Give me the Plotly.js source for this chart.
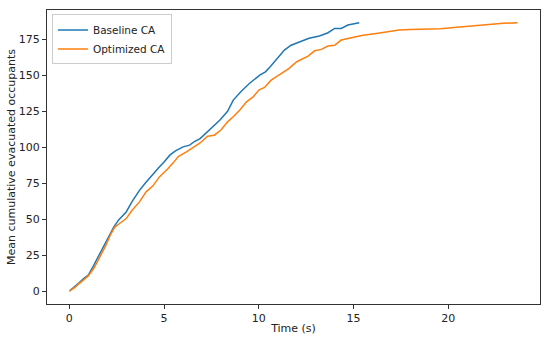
<!DOCTYPE html>
<html>
<head>
<meta charset="utf-8">
<script src="https://cdn.plot.ly/plotly-3.0.1.min.js"></script>
<style>html,body{margin:0;padding:0;background:#fff;}#chart{width:550px;height:341px;}</style>
</head>
<body>
<div id="chart"></div>
<script>
const baselineTime = [0, 0.3, 0.5, 0.75, 1.0, 1.25, 1.5, 1.8, 2.1, 2.35, 2.6, 2.8, 3.0, 3.3, 3.7, 4.0, 4.35, 4.7, 5.0, 5.3, 5.6, 6.0, 6.35, 6.6, 6.9, 7.3, 7.6, 7.95, 8.35, 8.65, 9.05, 9.5, 10.05, 10.35, 10.6, 10.9, 11.35, 11.7, 12.15, 12.65, 13.2, 13.65, 14.0, 14.35, 14.7, 15.3];
const baselineValues = [0, 3, 5.5, 8.6, 11, 17, 23.5, 31, 39, 44.6, 49.5, 52.5, 55, 62, 70, 75, 80.6, 85.5, 89.8, 94.5, 97.5, 100.3, 101.5, 104, 106, 110.7, 114.5, 118.9, 125, 132.8, 138.6, 144.4, 150.2, 152.5, 156, 160.7, 167.6, 171, 173.4, 175.8, 177.4, 179.7, 182.7, 182.7, 185, 186.6];
const optimizedTime = [0, 0.3, 0.5, 0.75, 1.0, 1.3, 1.6, 1.9, 2.2, 2.4, 2.7, 3.0, 3.3, 3.7, 4.05, 4.4, 4.75, 5.2, 5.5, 5.75, 6.2, 6.6, 6.9, 7.3, 7.65, 8.0, 8.35, 8.65, 9.0, 9.35, 9.7, 10.0, 10.3, 10.65, 10.9, 11.2, 11.6, 12.0, 12.6, 12.95, 13.3, 13.65, 14.0, 14.35, 14.8, 15.5, 16.2, 16.9, 17.4, 18.0, 19.6, 20.3, 21.4, 22.2, 22.9, 23.65];
const optimizedValues = [0, 2.5, 5, 8, 10.5, 16, 23, 31, 40, 44.5, 47.5, 50.4, 56, 62, 69, 73, 79.4, 85, 89.5, 93.5, 97, 100.3, 103, 107.7, 108.4, 112, 117.7, 121.2, 126, 131.6, 135, 139.8, 141.6, 146.7, 149, 151.8, 154.9, 159.5, 163.4, 167.1, 168.1, 170.4, 171, 174.6, 175.8, 178, 179.2, 180.4, 181.5, 182, 182.5, 183.4, 184.5, 185.7, 186.2, 186.6];
const seriesNames = ["Baseline CA", "Optimized CA"];
const xTicks = [0, 5, 10, 15, 20];
const yTicks = [0, 25, 50, 75, 100, 125, 150, 175];

const font = {family: "DejaVu Sans, sans-serif", size: 11, color: "#222"};
const traces = [
  {x: baselineTime, y: baselineValues, name: seriesNames[0], type: "scatter", mode: "lines", line: {color: "#1f77b4", width: 1.5}},
  {x: optimizedTime, y: optimizedValues, name: seriesNames[1], type: "scatter", mode: "lines", line: {color: "#ff7f0e", width: 1.5}}
];
const axisCommon = {showgrid: false, zeroline: false, showline: true, mirror: true, linecolor: "#333", linewidth: 1,
  ticks: "outside", ticklen: 4, tickcolor: "#333", tickwidth: 1, tickfont: font};
const layout = {
  width: 550, height: 341,
  margin: {l: 47, r: 10, t: 10, b: 37},
  paper_bgcolor: "#fff", plot_bgcolor: "#fff",
  font: font,
  showlegend: true,
  legend: {x: 0.01, y: 0.985, xanchor: "left", yanchor: "top", bgcolor: "#fff", bordercolor: "#ccc", borderwidth: 1,
    font: {family: font.family, size: 10.5, color: "#222"}, itemwidth: 30, tracegroupgap: 0},
  xaxis: Object.assign({}, axisCommon, {range: [-1.18, 24.84], tickvals: xTicks, ticktext: xTicks.map(String),
    title: {text: "Time (s)", font: font, standoff: 0}}),
  yaxis: Object.assign({}, axisCommon, {range: [-9.04, 195.5], tickvals: yTicks, ticktext: yTicks.map(String),
    title: {text: "Mean cumulative evacuated occupants", font: font, standoff: 0}})
};
Plotly.newPlot("chart", traces, layout, {displayModeBar: false, staticPlot: true});
</script>
</body>
</html>
